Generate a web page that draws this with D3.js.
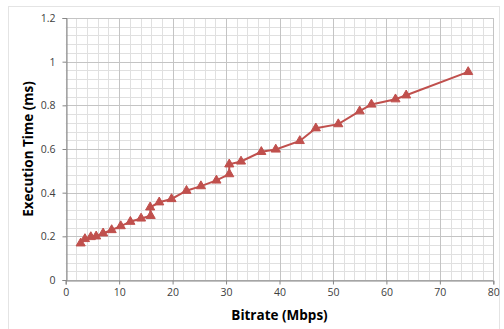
<!DOCTYPE html>
<html>
<head>
<meta charset="utf-8">
<script src="https://cdn.jsdelivr.net/npm/d3@7"></script>
<style>
  html, body { margin: 0; padding: 0; background: #fff; }
  svg { display: block; }
</style>
</head>
<body>
<svg id="chart" width="504" height="329"></svg>
<script>
const bitrate = [2.8, 3.6, 4.7, 5.7, 7.0, 8.6, 10.3, 12.1, 14.1, 15.9, 15.8, 17.5, 19.8, 22.6, 25.3, 28.2, 30.6, 30.6, 32.8, 36.6, 39.3, 43.8, 46.8, 51.0, 55.0, 57.2, 61.7, 63.7, 75.3];
const execTime = [0.168, 0.188, 0.197, 0.200, 0.214, 0.229, 0.247, 0.267, 0.282, 0.294, 0.333, 0.356, 0.371, 0.409, 0.430, 0.456, 0.485, 0.530, 0.543, 0.587, 0.598, 0.637, 0.695, 0.714, 0.773, 0.804, 0.828, 0.846, 0.953];
const xTicks = [0, 10, 20, 30, 40, 50, 60, 70, 80];
const yTicks = [0, 0.2, 0.4, 0.6, 0.8, 1, 1.2];
const xMinor = d3.range(0, 81, 2);
const yMinor = d3.range(0, 1.2001, 0.04);

const svg = d3.select("#chart");
const m = { left: 65.7, right: 493.3, top: 18, bottom: 280 };
const x = d3.scaleLinear().domain([0, 80]).range([m.left, m.right]);
const y = d3.scaleLinear().domain([0, 1.2]).range([m.bottom, m.top]);

// outer frame
svg.append("rect").attr("x", 8.5).attr("y", 6.5).attr("width", 491).attr("height", 330)
  .attr("fill", "none").attr("stroke", "#e4e4e4").attr("stroke-width", 1);

// minor grid
const g = svg.append("g");
g.selectAll(".vminor").data(xMinor).join("line")
  .attr("x1", d => Math.round(x(d)) + 0.5).attr("x2", d => Math.round(x(d)) + 0.5)
  .attr("y1", m.top).attr("y2", m.bottom)
  .attr("stroke", "#e0e0e0").attr("stroke-width", 1);
g.selectAll(".hminor").data(yMinor).join("line")
  .attr("y1", d => Math.round(y(d)) + 0.5).attr("y2", d => Math.round(y(d)) + 0.5)
  .attr("x1", m.left).attr("x2", m.right)
  .attr("stroke", "#e0e0e0").attr("stroke-width", 1);
// major grid
g.selectAll(".vmajor").data(xTicks).join("line")
  .attr("x1", d => Math.round(x(d)) + 0.5).attr("x2", d => Math.round(x(d)) + 0.5)
  .attr("y1", m.top).attr("y2", m.bottom)
  .attr("stroke", "#c4c4c4").attr("stroke-width", 1);
g.selectAll(".hmajor").data(yTicks).join("line")
  .attr("y1", d => Math.round(y(d)) + 0.5).attr("y2", d => Math.round(y(d)) + 0.5)
  .attr("x1", m.left).attr("x2", m.right)
  .attr("stroke", "#c4c4c4").attr("stroke-width", 1);

// axes
const xAxis = svg.append("g").attr("transform", `translate(0,${Math.round(m.bottom) + 0.5})`)
  .call(d3.axisBottom(x).tickValues(xTicks).tickSize(4).tickPadding(4).tickFormat(d3.format("d")));
const yAxis = svg.append("g").attr("transform", `translate(${Math.round(m.left) + 0.5},0)`)
  .call(d3.axisLeft(y).tickValues(yTicks).tickSize(4).tickPadding(7).tickFormat(d => d === 0 ? "0" : (d === 1 ? "1" : d3.format(".1f")(d))));
[xAxis, yAxis].forEach(a => {
  a.select(".domain").attr("stroke", "#868686");
  a.selectAll(".tick line").attr("stroke", "#868686");
  a.selectAll(".tick text").attr("fill", "#404040").attr("font-size", "10.5px")
    .attr("font-family", "'Open Sans', 'Liberation Sans', sans-serif");
});

// line + markers
const pts = bitrate.map((b, i) => [b, execTime[i]]);
svg.append("path").datum(pts)
  .attr("d", d3.line().x(d => x(d[0])).y(d => y(d[1])))
  .attr("fill", "none").attr("stroke", "#c0504d").attr("stroke-width", 2);
svg.append("g").selectAll("path").data(pts).join("path")
  .attr("transform", d => `translate(${x(d[0])},${y(d[1])})`)
  .attr("d", d3.symbol().type(d3.symbolTriangle).size(36))
  .attr("fill", "#c0504d").attr("stroke", "#c0504d").attr("stroke-width", 1);

// axis titles
svg.append("text").attr("x", (m.left + m.right) / 2).attr("y", 320)
  .attr("text-anchor", "middle").attr("font-weight", "bold").attr("font-size", "13.5px")
  .attr("font-family", "'Open Sans', 'Liberation Sans', sans-serif").attr("fill", "#000")
  .text("Bitrate (Mbps)");
svg.append("text").attr("transform", `translate(33,${(m.top + m.bottom) / 2}) rotate(-90)`)
  .attr("text-anchor", "middle").attr("font-weight", "bold").attr("font-size", "13.5px")
  .attr("font-family", "'Open Sans', 'Liberation Sans', sans-serif").attr("fill", "#000")
  .text("Execution Time (ms)");
</script>
</body>
</html>
